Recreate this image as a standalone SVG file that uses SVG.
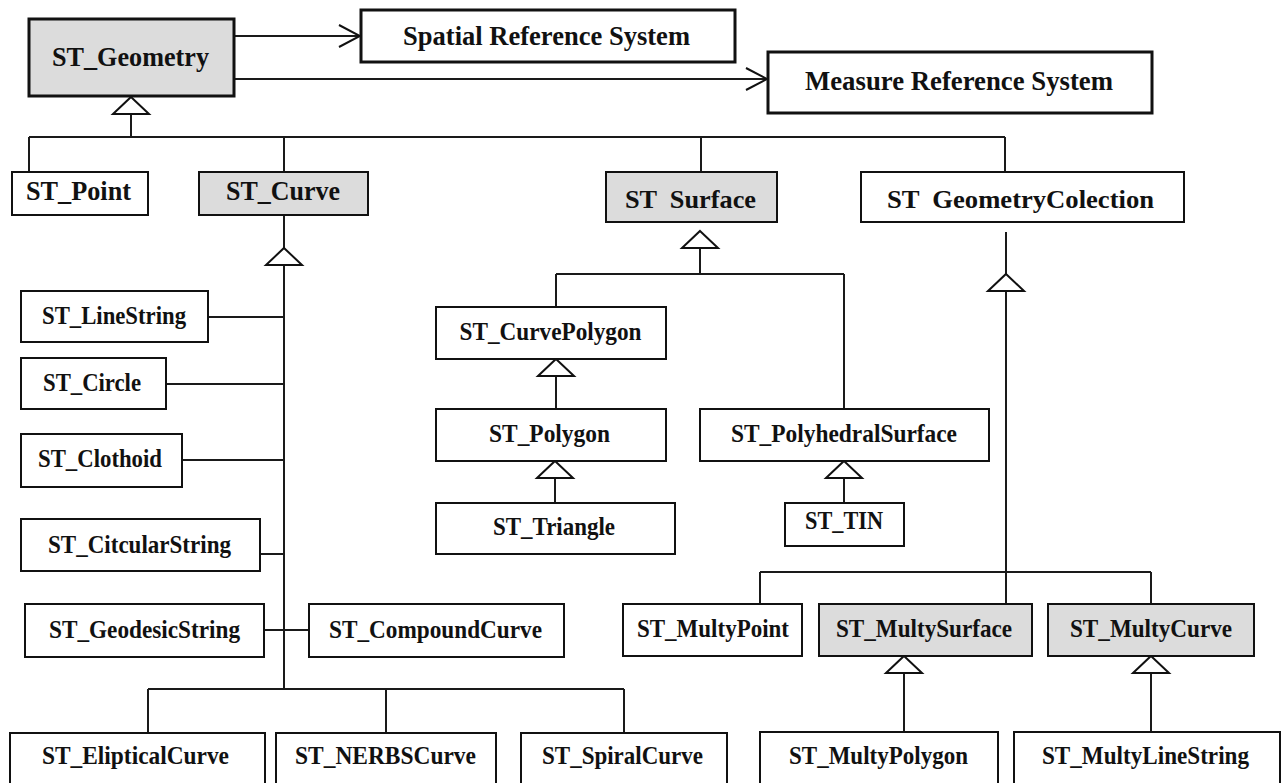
<svg xmlns="http://www.w3.org/2000/svg" xmlns:xlink="http://www.w3.org/1999/xlink" width="1283" height="783" viewBox="0 0 1283 783">
  <style>
    .box { fill: #ffffff; stroke: #111111; stroke-width: 2; }
    .box.abstract { fill: #dcdcdc; }
    .box.main { stroke-width: 3; }
    .lbl { font-family: "Liberation Serif", "Times New Roman", serif; font-weight: bold; font-size: 26px; fill: #111111; text-anchor: middle; }
    .lbl.big { font-size: 27.5px; }
    .pre { white-space: pre; }
    .wire { stroke: #1a1a1a; stroke-width: 2; fill: none; }
    .gen { fill: #ffffff; stroke: #111111; stroke-width: 2; stroke-linejoin: miter; }
  </style>
  <defs>
    <marker id="open" markerUnits="userSpaceOnUse" markerWidth="24" markerHeight="26" viewBox="0 0 24 26" refX="22" refY="13" orient="auto">
      <path d="M1,2 L22,13 L1,24" fill="none" stroke="#111111" stroke-width="2"/>
    </marker>
    <!-- hollow generalization triangle, apex at origin -->
    <path id="tri" class="gen" d="M0,0 L18,17 L-18,17 Z"/>
  </defs>
  <rect width="1283" height="783" fill="#ffffff"/>

  <g id="connectors">
    <!-- associations -->
    <line class="wire" x1="235" y1="36" x2="360" y2="36" marker-end="url(#open)"/>
    <line class="wire" x1="235" y1="79" x2="767" y2="79" marker-end="url(#open)"/>
    <!-- ST_Geometry subtypes -->
    <path class="wire" d="M131,112 V137 M29,137 H1005 M29,137 V172 M284,137 V172 M701,137 V172 M1005,137 V172"/>
    <use xlink:href="#tri" x="131" y="97"/>
    <!-- ST_Curve subtypes -->
    <path class="wire" d="M284,215 V248 M284,265 V689 M208,317 H284 M166,384 H284 M182,460 H284 M260,554 H284 M264,630 H309 M148,689 H624 M148,689 V733 M386,689 V733 M624,689 V733"/>
    <use xlink:href="#tri" x="284" y="248"/>
    <!-- ST_Surface subtypes -->
    <path class="wire" d="M700,248 V274 M556,274 H844 M556,274 V307 M844,274 V409 M556,376 V409 M555,478 V503 M844,478 V503"/>
    <use xlink:href="#tri" x="700" y="231"/>
    <use xlink:href="#tri" x="556" y="359"/>
    <use xlink:href="#tri" x="555" y="461"/>
    <use xlink:href="#tri" x="844" y="461"/>
    <!-- ST_GeometryColection subtypes -->
    <path class="wire" d="M1006,232 V274 M1006,291 V604 M760,572 H1151 M760,572 V604 M1151,572 V604 M904,673 V732 M1151,673 V732"/>
    <use xlink:href="#tri" x="1006" y="274"/>
    <use xlink:href="#tri" x="904" y="656"/>
    <use xlink:href="#tri" x="1151" y="656"/>
  </g>

  <g id="st-geometry">
    <rect class="box abstract main" x="29" y="19" width="205" height="77"/>
    <text class="lbl big" x="130.5" y="66" textLength="157" lengthAdjust="spacingAndGlyphs">ST_Geometry</text>
  </g>
  <g id="spatial-reference-system">
    <rect class="box main" x="361" y="10" width="374" height="52"/>
    <text class="lbl big" x="546.5" y="45" textLength="287" lengthAdjust="spacingAndGlyphs">Spatial Reference System</text>
  </g>
  <g id="measure-reference-system">
    <rect class="box main" x="768" y="52" width="384" height="61"/>
    <text class="lbl big" x="959" y="90" textLength="308" lengthAdjust="spacingAndGlyphs">Measure Reference System</text>
  </g>

  <g id="st-point">
    <rect class="box" x="12" y="172" width="136" height="43"/>
    <text class="lbl big" x="78.5" y="200" textLength="105" lengthAdjust="spacingAndGlyphs">ST_Point</text>
  </g>
  <g id="st-curve">
    <rect class="box abstract" x="199" y="172" width="169" height="43"/>
    <text class="lbl big" x="283" y="200" textLength="114" lengthAdjust="spacingAndGlyphs">ST_Curve</text>
  </g>
  <g id="st-surface">
    <rect class="box abstract" x="606" y="172" width="171" height="50"/>
    <text class="lbl pre" x="690.5" y="208" textLength="131" lengthAdjust="spacingAndGlyphs">ST  Surface</text>
  </g>
  <g id="st-geometrycolection">
    <rect class="box" x="861" y="172" width="323" height="50"/>
    <text class="lbl pre" x="1020.5" y="208" textLength="267" lengthAdjust="spacingAndGlyphs">ST  GeometryColection</text>
  </g>

  <g id="st-linestring">
    <rect class="box" x="21" y="291" width="187" height="51"/>
    <text class="lbl" x="114" y="324" textLength="144" lengthAdjust="spacingAndGlyphs">ST_LineString</text>
  </g>
  <g id="st-circle">
    <rect class="box" x="21" y="358" width="145" height="51"/>
    <text class="lbl" x="92" y="391" textLength="98" lengthAdjust="spacingAndGlyphs">ST_Circle</text>
  </g>
  <g id="st-clothoid">
    <rect class="box" x="21" y="434" width="161" height="53"/>
    <text class="lbl" x="100" y="467" textLength="124" lengthAdjust="spacingAndGlyphs">ST_Clothoid</text>
  </g>
  <g id="st-citcularstring">
    <rect class="box" x="21" y="519" width="239" height="52"/>
    <text class="lbl" x="139.5" y="553" textLength="183" lengthAdjust="spacingAndGlyphs">ST_CitcularString</text>
  </g>
  <g id="st-geodesicstring">
    <rect class="box" x="25" y="604" width="239" height="53"/>
    <text class="lbl" x="144.5" y="638" textLength="191" lengthAdjust="spacingAndGlyphs">ST_GeodesicString</text>
  </g>
  <g id="st-compoundcurve">
    <rect class="box" x="309" y="604" width="255" height="53"/>
    <text class="lbl" x="435.5" y="638" textLength="213" lengthAdjust="spacingAndGlyphs">ST_CompoundCurve</text>
  </g>
  <g id="st-elipticalcurve">
    <rect class="box" x="10" y="733" width="255" height="60"/>
    <text class="lbl" x="135.5" y="764" textLength="187" lengthAdjust="spacingAndGlyphs">ST_ElipticalCurve</text>
  </g>
  <g id="st-nerbscurve">
    <rect class="box" x="276" y="733" width="220" height="60"/>
    <text class="lbl" x="385.5" y="764" textLength="181" lengthAdjust="spacingAndGlyphs">ST_NERBSCurve</text>
  </g>
  <g id="st-spiralcurve">
    <rect class="box" x="521" y="733" width="206" height="60"/>
    <text class="lbl" x="622.5" y="764" textLength="161" lengthAdjust="spacingAndGlyphs">ST_SpiralCurve</text>
  </g>

  <g id="st-curvepolygon">
    <rect class="box" x="436" y="307" width="230" height="52"/>
    <text class="lbl" x="550.5" y="340" textLength="182" lengthAdjust="spacingAndGlyphs">ST_CurvePolygon</text>
  </g>
  <g id="st-polygon">
    <rect class="box" x="436" y="409" width="230" height="52"/>
    <text class="lbl" x="549.5" y="442" textLength="121" lengthAdjust="spacingAndGlyphs">ST_Polygon</text>
  </g>
  <g id="st-triangle">
    <rect class="box" x="436" y="503" width="239" height="51"/>
    <text class="lbl" x="554" y="535" textLength="122" lengthAdjust="spacingAndGlyphs">ST_Triangle</text>
  </g>
  <g id="st-polyhedralsurface">
    <rect class="box" x="700" y="409" width="289" height="52"/>
    <text class="lbl" x="844" y="442" textLength="226" lengthAdjust="spacingAndGlyphs">ST_PolyhedralSurface</text>
  </g>
  <g id="st-tin">
    <rect class="box" x="785" y="503" width="119" height="43"/>
    <text class="lbl" x="844" y="529" textLength="78" lengthAdjust="spacingAndGlyphs">ST_TIN</text>
  </g>

  <g id="st-multypoint">
    <rect class="box" x="623" y="604" width="179" height="52"/>
    <text class="lbl" x="713" y="637" textLength="152" lengthAdjust="spacingAndGlyphs">ST_MultyPoint</text>
  </g>
  <g id="st-multysurface">
    <rect class="box abstract" x="819" y="604" width="213" height="52"/>
    <text class="lbl" x="924" y="637" textLength="176" lengthAdjust="spacingAndGlyphs">ST_MultySurface</text>
  </g>
  <g id="st-multycurve">
    <rect class="box abstract" x="1048" y="604" width="206" height="52"/>
    <text class="lbl" x="1151" y="637" textLength="162" lengthAdjust="spacingAndGlyphs">ST_MultyCurve</text>
  </g>
  <g id="st-multypolygon">
    <rect class="box" x="760" y="732" width="238" height="60"/>
    <text class="lbl" x="878.5" y="764" textLength="179" lengthAdjust="spacingAndGlyphs">ST_MultyPolygon</text>
  </g>
  <g id="st-multylinestring">
    <rect class="box" x="1014" y="732" width="266" height="60"/>
    <text class="lbl" x="1145.5" y="764" textLength="207" lengthAdjust="spacingAndGlyphs">ST_MultyLineString</text>
  </g>
</svg>
